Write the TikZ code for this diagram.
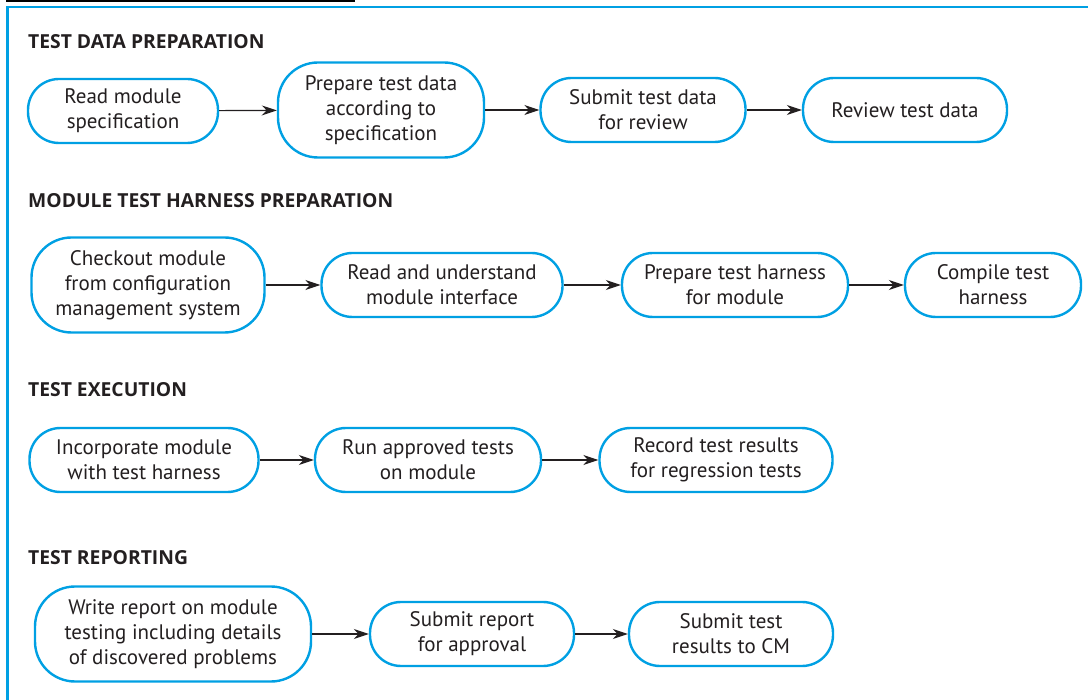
\documentclass[tikz,border=0pt]{standalone}
\usepackage{fontspec}
\setmainfont{PT Sans}
\newfontfamily\headfont{Open Sans}
\usetikzlibrary{arrows.meta}
\definecolor{frameblue}{RGB}{0,160,227}
\definecolor{inkblack}{RGB}{35,31,32}
\tikzset{
  stage/.style={draw=frameblue, line width=2.4pt, fill=white, align=center,
    font=\fontsize{21}{25}\selectfont, text=inkblack, inner sep=0pt,
    minimum height=64pt, rounded corners=31pt},
  tall/.style={minimum height=95pt, rounded corners=40pt},
  heading/.style={anchor=west, font=\headfont\fontsize{19.3}{22}\selectfont\bfseries, text=inkblack, inner sep=0pt},
  flow/.style={-{Stealth[length=15pt,width=10pt]}, line width=1.2pt, draw=inkblack},
}
\begin{document}
\begin{tikzpicture}[x=1pt,y=-1pt]
\useasboundingbox (0,0) rectangle (1088,700);
% frame edges
\draw[line width=2.5pt, black] (6,1) -- (355,1);
\draw[line width=2.2pt, frameblue] (1088,7) -- (7.5,7) -- (7.5,700);

% Test data preparation
\node[heading] (h1) at (28,42) {TEST DATA PREPARATION};
\node[stage, minimum width=190pt] (n1) at (123,111) {Read module\\specification};
\node[stage, tall, minimum width=206pt] (n2) at (381,110) {Prepare test data\\according to\\specification};
\node[stage, minimum width=205pt] (n3) at (643,110) {Submit test data\\for review};
\node[stage, minimum width=204pt] (n4) at (905,110) {Review test data};
\draw[flow] (n1) -- (n2);
\draw[flow] (n2) -- (n3);
\draw[flow] (n3) -- (n4);

% Module test harness preparation
\node[heading] (h2) at (28,201) {MODULE TEST HARNESS PREPARATION};
\node[stage, tall, minimum width=233pt] (m1) at (148,285) {Checkout module\\from configuration\\management system};
\node[stage, minimum width=241pt] (m2) at (442,285) {Read and understand\\module interface};
\node[stage, minimum width=226pt] (m3) at (735,285) {Prepare test harness\\for module};
\node[stage, minimum width=176pt] (m4) at (993,285) {Compile test\\harness};
\draw[flow] (m1) -- (m2);
\draw[flow] (m2) -- (m3);
\draw[flow] (m3) -- (m4);

% Test execution
\node[heading] (h3) at (28,390) {TEST EXECUTION};
\node[stage, minimum width=229pt] (e1) at (144,460) {Incorporate module\\with test harness};
\node[stage, minimum width=226pt] (e2) at (428,460) {Run approved tests\\on module};
\node[stage, minimum width=233pt] (e3) at (716,460) {Record test results\\for regression tests};
\draw[flow] (e1) -- (e2);
\draw[flow] (e2) -- (e3);

% Test reporting
\node[heading] (h4) at (28,558) {TEST REPORTING};
\node[stage, tall, minimum width=276pt] (r1) at (173,634) {Write report on module\\testing including details\\of discovered problems};
\node[stage, minimum width=204pt] (r2) at (472,634) {Submit report\\for approval};
\node[stage, minimum width=204pt] (r3) at (731,634) {Submit test\\results to CM};
\draw[flow] (r1) -- (r2);
\draw[flow] (r2) -- (r3);
\end{tikzpicture}
\end{document}
